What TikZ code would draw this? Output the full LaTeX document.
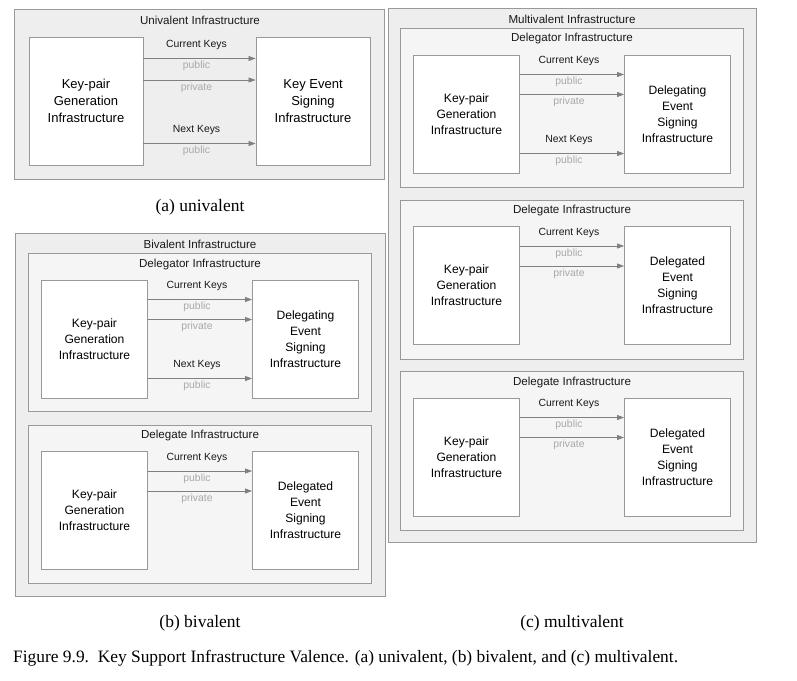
\documentclass[tikz,border=0pt]{standalone}
\usepackage{fontspec}
\setmainfont{Liberation Sans}
\newfontfamily\capfont{Liberation Serif}
\usetikzlibrary{arrows.meta}

\definecolor{panelline}{HTML}{999999}
\definecolor{outerfill}{HTML}{EEEEEE}
\definecolor{innerfill}{HTML}{F5F5F5}
\definecolor{arrowgray}{HTML}{808080}
\definecolor{kindgray}{HTML}{A8A8A8}

\tikzset{
  outerpanel/.style={draw=panelline, fill=outerfill, line width=0.9pt},
  innerpanel/.style={draw=panelline, fill=innerfill, line width=0.9pt},
  paneltitle/.style={inner sep=0pt, text=black!90, font=\fontsize{11.6}{14}\selectfont},
  infra/.style={draw=panelline, fill=white, line width=0.9pt, align=center, inner sep=0pt,
    minimum width=106pt, minimum height=118pt, font=\fontsize{12.1}{16}\selectfont},
  keyarrow/.style={draw=arrowgray, line width=0.7pt, -{Triangle[length=7pt,width=5pt]}},
  keyname/.style={midway, above=7pt, xshift=-3pt, inner sep=1pt,
    font=\fontsize{10.4}{12}\selectfont, text=black!90},
  keykind/.style={midway, below=1.5pt, xshift=-3pt, inner sep=1pt,
    font=\fontsize{10.4}{12}\selectfont, text=kindgray},
  subcap/.style={font=\capfont\fontsize{17.5}{20}\selectfont}
}

\begin{document}
\begin{tikzpicture}[x=1pt,y=-1pt]
\useasboundingbox (0,0) rectangle (797,680);

% (a) univalent
\draw[outerpanel] (14.5,9) rectangle (384.5,179);
\node[paneltitle] (unititle) at (200,20) {Univalent Infrastructure};
\node[infra, minimum width=114pt, minimum height=128pt, font=\fontsize{13}{17}\selectfont] (kga) at (86,101) {Key-pair\\Generation\\Infrastructure};
\node[infra, minimum width=114pt, minimum height=128pt, font=\fontsize{13}{17}\selectfont] (kesa) at (313,101) {Key Event\\Signing\\Infrastructure};
\draw[keyarrow] (kga.east |- 0,58.5) -- node[keyname] {Current Keys} node[keykind] {public} (kesa.west |- 0,58.5);
\draw[keyarrow] (kga.east |- 0,80) -- node[keykind] {private} (kesa.west |- 0,80);
\draw[keyarrow] (kga.east |- 0,143.5) -- node[keyname] {Next Keys} node[keykind] {public} (kesa.west |- 0,143.5);
\node[subcap] (capa) at (200,207) {(a) univalent};

% (b) bivalent
\draw[outerpanel] (15.5,233.5) rectangle (385,596);
\node[paneltitle] (bititle) at (200,244) {Bivalent Infrastructure};
\draw[innerpanel] (28.5,253.5) rectangle (371.5,411.5);
\node[paneltitle] (bdtitle) at (200,264) {Delegator Infrastructure};
\node[infra] (kgb) at (94.5,339) {Key-pair\\Generation\\Infrastructure};
\node[infra] (desb) at (305.5,339) {Delegating\\Event\\Signing\\Infrastructure};
\draw[keyarrow] (kgb.east |- 0,299.5) -- node[keyname] {Current Keys} node[keykind] {public} (desb.west |- 0,299.5);
\draw[keyarrow] (kgb.east |- 0,319.5) -- node[keykind] {private} (desb.west |- 0,319.5);
\draw[keyarrow] (kgb.east |- 0,378.5) -- node[keyname] {Next Keys} node[keykind] {public} (desb.west |- 0,378.5);
\draw[innerpanel] (28.5,425) rectangle (371.5,583);
\node[paneltitle] (bgtitle) at (200,435.5) {Delegate Infrastructure};
\node[infra] (kgbb) at (94.5,510.5) {Key-pair\\Generation\\Infrastructure};
\node[infra] (dedb) at (305.5,510.5) {Delegated\\Event\\Signing\\Infrastructure};
\draw[keyarrow] (kgbb.east |- 0,471) -- node[keyname] {Current Keys} node[keykind] {public} (dedb.west |- 0,471);
\draw[keyarrow] (kgbb.east |- 0,491) -- node[keykind] {private} (dedb.west |- 0,491);
\node[subcap] (capb) at (200,623) {(b) bivalent};

% (c) multivalent
\draw[outerpanel] (388.5,8.5) rectangle (756.5,542.5);
\node[paneltitle] (multititle) at (572,19.5) {Multivalent Infrastructure};
\draw[innerpanel] (400.5,28.5) rectangle (743.5,187.5);
\node[paneltitle] (cdtitle) at (572,38.5) {Delegator Infrastructure};
\node[infra] (kgc) at (466.5,114) {Key-pair\\Generation\\Infrastructure};
\node[infra] (desc) at (677.5,114) {Delegating\\Event\\Signing\\Infrastructure};
\draw[keyarrow] (kgc.east |- 0,74.5) -- node[keyname] {Current Keys} node[keykind] {public} (desc.west |- 0,74.5);
\draw[keyarrow] (kgc.east |- 0,94.5) -- node[keykind] {private} (desc.west |- 0,94.5);
\draw[keyarrow] (kgc.east |- 0,153.5) -- node[keyname] {Next Keys} node[keykind] {public} (desc.west |- 0,153.5);
\foreach \dy/\n in {171.5/1,343/2} {
  \draw[innerpanel] (400.5,28.5+\dy) rectangle (743.5,187.5+\dy);
  \node[paneltitle] (cgtitle\n) at (572,39+\dy) {Delegate Infrastructure};
  \node[infra] (kgc\n) at (466.5,114+\dy) {Key-pair\\Generation\\Infrastructure};
  \node[infra] (dedc\n) at (677.5,114+\dy) {Delegated\\Event\\Signing\\Infrastructure};
  \draw[keyarrow] (kgc\n.east |- 0,74.5+\dy) -- node[keyname] {Current Keys} node[keykind] {public} (dedc\n.west |- 0,74.5+\dy);
  \draw[keyarrow] (kgc\n.east |- 0,94.5+\dy) -- node[keykind] {private} (dedc\n.west |- 0,94.5+\dy);
}
\node[subcap] (capc) at (572,623) {(c) multivalent};

\node[anchor=west, inner sep=0pt, font=\capfont\fontsize{17.4}{20}\selectfont] (figcap) at (13,658) {Figure 9.9.\ \ Key Support Infrastructure Valence. (a) univalent, (b) bivalent, and (c) multivalent.};
\end{tikzpicture}
\end{document}
